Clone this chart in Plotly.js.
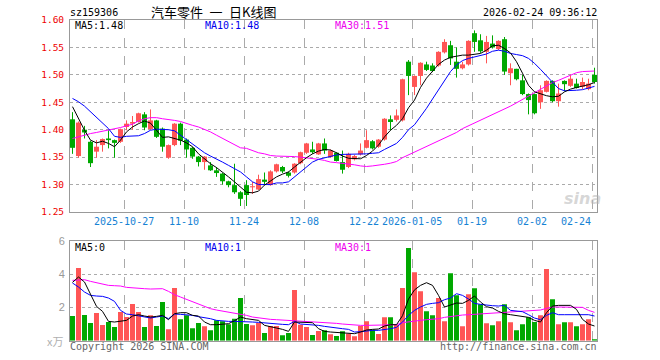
<!DOCTYPE html>
<html>
<head>
<meta charset="utf-8">
<script src="https://cdn.plot.ly/plotly-3.0.1.min.js"></script>
<style>html,body{margin:0;padding:0;background:#fff;}#chart{width:660px;height:360px;}</style>
</head>
<body>
<div id="chart"></div>
<script>
const dates = [
'2025-10-14','2025-10-15','2025-10-16','2025-10-17','2025-10-20','2025-10-21','2025-10-22','2025-10-23','2025-10-24','2025-10-27',
'2025-10-28','2025-10-29','2025-10-30','2025-10-31','2025-11-03','2025-11-04','2025-11-05','2025-11-06','2025-11-07','2025-11-10',
'2025-11-11','2025-11-12','2025-11-13','2025-11-14','2025-11-17','2025-11-18','2025-11-19','2025-11-20','2025-11-21','2025-11-24',
'2025-11-25','2025-11-26','2025-11-27','2025-11-28','2025-12-01','2025-12-02','2025-12-03','2025-12-04','2025-12-05','2025-12-08',
'2025-12-09','2025-12-10','2025-12-11','2025-12-12','2025-12-15','2025-12-16','2025-12-17','2025-12-18','2025-12-19','2025-12-22',
'2025-12-23','2025-12-24','2025-12-25','2025-12-26','2025-12-29','2025-12-30','2025-12-31','2026-01-05','2026-01-06','2026-01-07',
'2026-01-08','2026-01-09','2026-01-12','2026-01-13','2026-01-14','2026-01-15','2026-01-16','2026-01-19','2026-01-20','2026-01-21',
'2026-01-22','2026-01-23','2026-01-26','2026-01-27','2026-01-28','2026-01-29','2026-01-30','2026-02-02','2026-02-03','2026-02-04',
'2026-02-05','2026-02-06','2026-02-09','2026-02-10','2026-02-11','2026-02-12','2026-02-13','2026-02-24'];

const openP = [1.419,1.352,1.400,1.378,1.360,1.372,1.384,1.381,1.378,1.405,
1.411,1.414,1.428,1.401,1.417,1.402,1.349,1.372,1.411,1.382,
1.367,1.351,1.341,1.335,1.326,1.320,1.306,1.299,1.286,1.299,
1.295,1.291,1.309,1.299,1.324,1.332,1.322,1.322,1.339,1.358,
1.364,1.355,1.375,1.350,1.358,1.341,1.332,1.346,1.355,1.367,
1.379,1.369,1.382,1.419,1.418,1.417,1.524,1.478,1.498,1.519,
1.517,1.517,1.541,1.554,1.524,1.512,1.519,1.576,1.563,1.542,
1.557,1.547,1.565,1.503,1.511,1.490,1.465,1.465,1.450,1.469,
1.489,1.452,1.489,1.480,1.484,1.478,1.474,1.500];
const highP = [1.432,1.415,1.407,1.380,1.381,1.384,1.399,1.382,1.402,1.417,
1.425,1.431,1.432,1.437,1.418,1.404,1.373,1.412,1.413,1.384,
1.369,1.352,1.352,1.341,1.332,1.321,1.307,1.338,1.288,1.308,
1.305,1.318,1.322,1.326,1.338,1.334,1.324,1.339,1.360,1.376,
1.378,1.376,1.384,1.364,1.359,1.362,1.358,1.354,1.375,1.399,
1.381,1.383,1.421,1.426,1.437,1.493,1.527,1.499,1.523,1.524,
1.521,1.543,1.565,1.562,1.550,1.524,1.563,1.581,1.574,1.571,
1.572,1.563,1.569,1.521,1.511,1.500,1.466,1.466,1.481,1.490,
1.490,1.484,1.490,1.500,1.493,1.495,1.493,1.513];
const lowP = [1.356,1.349,1.384,1.332,1.349,1.360,1.366,1.349,1.376,1.399,
1.400,1.413,1.399,1.400,1.385,1.360,1.347,1.370,1.372,1.349,
1.347,1.333,1.327,1.325,1.314,1.300,1.295,1.283,1.261,1.261,
1.283,1.290,1.300,1.298,1.322,1.321,1.313,1.320,1.337,1.356,
1.356,1.354,1.356,1.349,1.342,1.320,1.330,1.344,1.353,1.366,
1.364,1.367,1.380,1.399,1.415,1.415,1.463,1.463,1.481,1.507,
1.505,1.515,1.539,1.518,1.495,1.510,1.517,1.542,1.540,1.521,
1.548,1.545,1.500,1.481,1.490,1.463,1.428,1.428,1.438,1.468,
1.450,1.442,1.470,1.478,1.475,1.474,1.472,1.484];
const closeP = [1.367,1.413,1.395,1.339,1.369,1.383,1.381,1.376,1.401,1.411,
1.414,1.430,1.404,1.417,1.387,1.369,1.372,1.411,1.380,1.364,
1.351,1.341,1.351,1.326,1.321,1.306,1.299,1.286,1.274,1.281,
1.297,1.310,1.305,1.324,1.337,1.324,1.316,1.338,1.359,1.375,
1.359,1.375,1.362,1.362,1.343,1.327,1.356,1.352,1.362,1.381,
1.366,1.382,1.420,1.414,1.426,1.492,1.498,1.498,1.522,1.509,
1.507,1.542,1.560,1.530,1.511,1.519,1.562,1.560,1.543,1.560,
1.550,1.562,1.506,1.512,1.492,1.465,1.454,1.430,1.472,1.489,
1.452,1.466,1.483,1.493,1.476,1.487,1.484,1.487];
const volume = [1.48,4.36,1.54,1.06,1.66,0.94,1.12,0.82,1.72,1.42,
2.2,1.72,0.82,1.52,0.88,2.32,0.68,3.16,1.28,1.52,
0.74,1.06,0.86,0.62,1.22,1.16,0.98,1.32,2.56,1.0,
0.92,1.06,0.46,0.88,0.88,0.32,0.46,3.04,0.96,0.82,
0.34,0.58,0.62,0.38,0.28,0.56,0.42,0.26,0.88,1.16,
0.66,0.4,1.4,1.4,0.96,3.16,5.56,4.1,2.96,1.76,
1.52,2.56,1.16,4.04,2.72,0.86,2.78,3.14,2.18,1.04,
0.92,1.16,2.18,1.1,0.62,0.98,1.4,1.12,1.52,4.3,
2.48,0.98,1.1,1.1,0.86,0.98,1.28,0.08];
const ma5 = [1.442,1.420,1.399,1.381,1.376,1.379,1.375,1.369,1.381,1.396,
1.405,1.411,1.416,1.412,1.399,1.386,1.387,1.384,1.381,1.376,
1.369,1.356,1.347,1.338,1.331,1.323,1.314,1.305,1.296,1.286,
1.285,1.288,1.299,1.307,1.314,1.319,1.323,1.332,1.341,1.349,
1.356,1.361,1.364,1.363,1.358,1.352,1.348,1.347,1.347,1.353,
1.361,1.372,1.387,1.399,1.408,1.420,1.440,1.454,1.477,1.494,
1.507,1.519,1.527,1.532,1.534,1.536,1.536,1.537,1.539,1.545,
1.553,1.554,1.548,1.540,1.524,1.503,1.481,1.469,1.465,1.462,
1.460,1.461,1.469,1.474,1.477,1.479,1.482,1.486];
const ma10 = [1.457,1.451,1.443,1.433,1.422,1.412,1.402,1.388,1.386,1.388,
1.389,1.389,1.393,1.399,1.401,1.401,1.400,1.398,1.390,1.382,
1.374,1.366,1.358,1.352,1.347,1.341,1.335,1.329,1.323,1.314,
1.305,1.300,1.300,1.300,1.303,1.303,1.305,1.314,1.323,1.332,
1.341,1.346,1.349,1.352,1.354,1.355,1.355,1.355,1.355,1.356,
1.357,1.358,1.364,1.370,1.375,1.386,1.400,1.409,1.423,1.439,
1.456,1.473,1.489,1.506,1.518,1.526,1.530,1.533,1.535,1.538,
1.543,1.545,1.543,1.539,1.537,1.535,1.530,1.521,1.510,1.498,
1.486,1.475,1.471,1.471,1.472,1.473,1.476,1.479];
const ma30 = [1.384,1.387,1.391,1.393,1.395,1.397,1.399,1.401,1.404,1.407,
1.410,1.416,1.420,1.422,1.422,1.420,1.419,1.417,1.415,1.411,
1.408,1.405,1.401,1.396,1.390,1.384,1.378,1.372,1.367,1.366,
1.362,1.358,1.356,1.353,1.352,1.352,1.352,1.351,1.350,1.349,
1.348,1.346,1.344,1.341,1.340,1.339,1.337,1.336,1.334,1.333,
1.334,1.335,1.337,1.339,1.342,1.349,1.354,1.359,1.364,1.369,
1.374,1.379,1.384,1.389,1.395,1.402,1.407,1.412,1.417,1.422,
1.427,1.432,1.437,1.443,1.449,1.455,1.461,1.467,1.473,1.479,
1.486,1.490,1.495,1.499,1.504,1.506,1.507,1.507];
const vma5 = [3.5,3.82,3.52,2.82,2.06,1.76,1.16,1.12,1.18,1.22,
1.48,1.56,1.48,1.42,1.46,1.52,1.26,1.62,1.68,1.68,
1.52,1.48,1.12,0.96,0.96,0.98,1.02,1.20,1.42,1.32,
1.28,1.22,0.92,0.82,0.76,0.68,0.56,1.12,1.12,1.12,
1.08,0.72,0.56,0.52,0.50,0.46,0.42,0.42,0.52,0.64,
0.68,0.70,0.88,0.96,0.96,1.50,2.50,3.05,3.32,3.48,
3.32,2.72,2.02,2.12,2.26,2.24,2.42,2.68,2.32,2.04,
1.96,1.76,1.62,1.56,1.52,1.48,1.40,1.22,1.12,1.68,
2.08,2.12,2.12,2.12,1.88,1.28,1.00,0.88];
const vma10 = [3.46,3.22,2.92,2.72,2.68,2.66,2.56,2.36,1.82,1.60,
1.56,1.48,1.40,1.36,1.42,1.48,1.32,1.60,1.58,1.56,
1.52,1.44,1.40,1.32,1.22,1.18,1.16,1.16,1.16,1.14,
1.12,1.10,1.06,1.02,1.00,0.98,0.96,1.16,1.00,0.98,
0.96,0.92,0.86,0.80,0.76,0.72,0.68,0.52,0.54,0.60,
0.62,0.62,0.66,0.72,0.80,1.12,1.52,1.82,2.02,2.18,
2.24,2.28,2.46,2.56,2.82,2.72,2.50,2.24,2.18,2.12,
2.10,2.08,2.12,1.82,1.78,1.74,1.56,1.36,1.26,1.52,
1.68,1.56,1.56,1.56,1.56,1.56,1.56,1.48];
const vma30 = [3.62,3.66,3.66,3.56,3.48,3.40,3.32,3.30,3.28,3.20,
3.16,3.14,3.12,3.10,3.10,3.12,2.96,2.76,2.62,2.48,
2.36,2.22,2.08,1.92,1.84,1.78,1.72,1.68,1.62,1.52,
1.42,1.36,1.32,1.28,1.26,1.24,1.24,1.22,1.20,1.18,
1.16,1.14,1.12,1.10,1.04,1.00,0.96,0.94,0.92,0.92,
0.92,0.92,0.92,0.94,0.96,1.08,1.14,1.18,1.22,1.26,
1.28,1.32,1.40,1.46,1.52,1.54,1.56,1.58,1.60,1.64,
1.66,1.68,1.70,1.72,1.74,1.76,1.78,1.80,1.84,1.94,
2.02,2.02,2.02,2.02,2.02,2.00,1.82,1.70];

const tickDates = ['2025-10-27','2025-11-10','2025-11-24','2025-12-08','2025-12-22','2026-01-05','2026-01-19','2026-02-02','2026-02-24'];
const tickLabels = ['2025-10-27','11-10','11-24','12-08','12-22','2026-01-05','01-19','02-02','02-24'];
const priceTicks = [1.25,1.30,1.35,1.40,1.45,1.50,1.55,1.60];
const volTicks = [2,4,6];

const UP = '#ff5555', DOWN = '#00a800';
const MONO = 'DejaVu Sans Mono';
const W = 660, H = 360;
const px = v => v / W, py = v => 1 - v / H;

const xs = dates.map((d, i) => i);
const isUp = xs.map(i => closeP[i] >= openP[i]);
const colors = isUp.map(u => u ? UP : DOWN);

function wick(up) {
  const x = [], y = [];
  xs.forEach(i => { if (isUp[i] === up) { x.push(i, i, null); y.push(lowP[i], highP[i], null); } });
  return {type:'scatter', mode:'lines', x, y, xaxis:'x', yaxis:'y', line:{color: up ? UP : DOWN, width:1}, hoverinfo:'skip'};
}

const traces = [
  wick(true), wick(false),
  {type:'bar', x: xs, y: xs.map(i => Math.abs(closeP[i]-openP[i])), base: xs.map(i => Math.min(openP[i], closeP[i])),
   width: 0.83, marker:{color: colors, line:{width:0}}, xaxis:'x', yaxis:'y'},
  {type:'scatter', mode:'lines', x: xs, y: ma30, line:{color:'#ff00ff', width:1}, xaxis:'x', yaxis:'y'},
  {type:'scatter', mode:'lines', x: xs, y: ma10, line:{color:'#0000ff', width:1}, xaxis:'x', yaxis:'y'},
  {type:'scatter', mode:'lines', x: xs, y: ma5, line:{color:'#000000', width:1}, xaxis:'x', yaxis:'y'},
  {type:'bar', x: xs, y: volume, width: 0.83, marker:{color: colors, line:{width:0}}, xaxis:'x2', yaxis:'y2'},
  {type:'scatter', mode:'lines', x: xs, y: vma30, line:{color:'#ff00ff', width:1}, xaxis:'x2', yaxis:'y2'},
  {type:'scatter', mode:'lines', x: xs, y: vma10, line:{color:'#0000ff', width:1}, xaxis:'x2', yaxis:'y2'},
  {type:'scatter', mode:'lines', x: xs, y: vma5, line:{color:'#000000', width:1}, xaxis:'x2', yaxis:'y2'}
];

const gridShift = -0.37;
const tickPos = tickDates.map(d => dates.indexOf(d) + gridShift);
const xRange = [-0.4167, dates.length - 1 + 0.4167];

const xCommon = {range: xRange, tickvals: tickPos, showticklabels:false, ticks:'', showgrid:true,
  gridcolor:'#aaaaaa', griddash:'dash', gridwidth:1, zeroline:false, showline:true, mirror:true,
  linecolor:'#999999', linewidth:1, domain:[px(70), px(597)], fixedrange:true};

const annotations = [];
function txt(text, x, y, xanchor, size, color, family, extra) {
  annotations.push(Object.assign({text, x, y, xref:'paper', yref:'paper', xanchor, yanchor:'middle',
    showarrow:false, font:{size, color, family: family || MONO}, borderpad:0}, extra || {}));
}
txt('sz159306', px(69), py(13), 'left', 10, '#000');
txt('汽车零件\u2002一\u2002日K线图', px(213.5), py(12), 'center', 13, '#000', 'Noto Sans CJK SC');
txt('2026-02-24 09:36:12', px(598), py(12.5), 'right', 10, '#000');
txt('MA5:1.48', px(74), py(26), 'left', 10, '#000');
txt('MA10:1.48', px(204), py(26), 'left', 10, '#0000ee');
txt('MA30:1.51', px(334), py(26), 'left', 10, '#ee00ee');
txt('MA5:0', px(74), py(247), 'left', 10, '#000');
txt('MA10:1', px(204), py(247), 'left', 10, '#0000ee');
txt('MA30:1', px(334), py(247), 'left', 10, '#ee00ee');
txt('Copyright 2026 SINA.COM', px(69), py(346), 'left', 10, '#666');
txt('http://finance.sina.com.cn', px(598), py(346), 'right', 10, '#666');
txt('x万', px(64), py(341), 'right', 11, '#b0b0b0', 'Noto Sans CJK SC');
txt('<b><i>sina</i></b>', px(582), py(198), 'center', 16, 'rgba(180,180,180,0.55)', 'DejaVu Sans');
tickLabels.forEach((t, k) => {
  const last = k === tickLabels.length - 1;
  annotations.push({text: t, x: tickPos[k], xref:'x', y: py(221.5), yref:'paper', xanchor: last ? 'right' : 'center',
    yanchor:'middle', showarrow:false, borderpad:0, font:{size:10, color:'#1682d4', family: MONO}});
});

const layout = {
  width: W, height: H, margin:{l:0, r:0, t:0, b:0},
  paper_bgcolor:'#ffffff', plot_bgcolor:'#ffffff',
  showlegend:false, hovermode:false, barmode:'overlay',
  xaxis: Object.assign({}, xCommon, {anchor:'y'}),
  xaxis2: Object.assign({}, xCommon, {anchor:'y2'}),
  yaxis: {domain:[py(212), py(20)], range:[1.25, 1.60], tickvals: priceTicks, ticktext: priceTicks.map(v => v.toFixed(2)),
    tickfont:{family: MONO, size:9.5, color:'#ee0000'}, ticks:'outside', ticklen:3, tickcolor:'rgba(0,0,0,0)',
    showgrid:true, gridcolor:'#aaaaaa', griddash:'dot', gridwidth:1, zeroline:false, showline:true, mirror:true,
    linecolor:'#999999', linewidth:1, anchor:'x', fixedrange:true},
  yaxis2: {domain:[py(340.7), py(240.7)], range:[0, 6], tickvals: volTicks, ticktext: volTicks.map(String),
    tickfont:{family:'Liberation Sans', size:11, color:'#999999'}, ticks:'outside', ticklen:2, tickcolor:'rgba(0,0,0,0)',
    showgrid:true, gridcolor:'#aaaaaa', griddash:'dot', gridwidth:1, zeroline:false, showline:true, mirror:true,
    linecolor:'#999999', linewidth:1, anchor:'x2', fixedrange:true},
  annotations
};

Plotly.newPlot('chart', traces, layout, {staticPlot:true, displayModeBar:false});
</script>
</body>
</html>
